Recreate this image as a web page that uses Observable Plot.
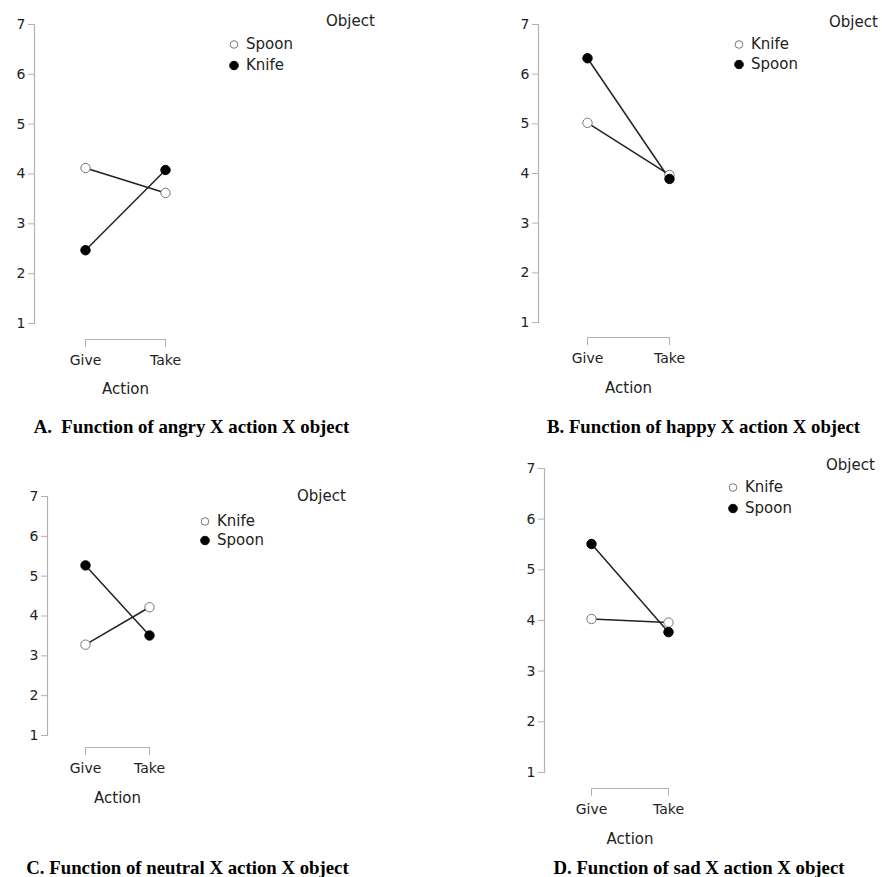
<!DOCTYPE html>
<html>
<head>
<meta charset="utf-8">
<script src="https://cdn.jsdelivr.net/npm/d3@7"></script>
<script src="https://cdn.jsdelivr.net/npm/@observablehq/plot@0.6"></script>
<style>
  body { margin: 0; background: #fff; }
  #page { position: relative; width: 882px; height: 877px; background: #fff; overflow: hidden; font-family: "DejaVu Sans", sans-serif; color: #222; }
  .panel { position: absolute; }
  .cap { position: absolute; transform: translate(-50%, -50%); font-family: "Liberation Serif", serif; font-weight: bold; font-size: 18.8px; color: #000; white-space: pre; }
  .objtitle { position: absolute; transform: translateY(-50%); font-size: 15px; color: #222; }
  .leg { position: absolute; font-size: 15px; color: #222; display: flex; align-items: center; transform: translate(-5px, -50%); line-height: 1; }
  .leg svg { margin-right: 7px; }
</style>
</head>
<body>
<div id="page"></div>
<script>
// ---------------- data ----------------
const actions = ["Give", "Take"];
const yTicks = [1, 2, 3, 4, 5, 6, 7];
const xLabel = "Action";
const legendTitle = "Object";

const captions = [
  "A.  Function of angry X action X object",
  "B. Function of happy X action X object",
  "C. Function of neutral X action X object",
  "D. Function of sad X action X object"
];

// legend order: first = open circle, second = filled circle
const objectsA = ["Spoon", "Knife"];
const objectsB = ["Knife", "Spoon"];
const objectsC = ["Knife", "Spoon"];
const objectsD = ["Knife", "Spoon"];

// values by action (Give, Take)
const angrySpoon = [4.12, 3.62];
const angryKnife = [2.47, 4.08];
const happyKnife = [5.02, 3.97];
const happySpoon = [6.32, 3.89];
const neutralKnife = [3.28, 4.22];
const neutralSpoon = [5.27, 3.51];
const sadKnife = [4.03, 3.96];
const sadSpoon = [5.51, 3.77];

// ---------------- layout ----------------
const panels = [
  { objects: objectsA, series: [angrySpoon, angryKnife], caption: captions[0],
    left: 0, top: 0, width: 440, height: 400,
    mL: 34, mT: 24, mB: 77, mR: 224, xr: [85, 165], bracket: 16, labelDy: 70,
    legX: 234, legY: [44, 65], objX: 326, objY: 21, capX: 191.5, capY: 427 },
  { objects: objectsB, series: [happyKnife, happySpoon], caption: captions[1],
    left: 440, top: 0, width: 442, height: 400,
    mL: 98, mT: 24, mB: 78, mR: 164, xr: [147, 229], bracket: 15, labelDy: 70,
    legX: 739, legY: [44, 64], objX: 829, objY: 22, capX: 703.5, capY: 427 },
  { objects: objectsC, series: [neutralKnife, neutralSpoon], caption: captions[2],
    left: 0, top: 440, width: 440, height: 400,
    mL: 47, mT: 56, mB: 105, mR: 253, xr: [85, 149], bracket: 12, labelDy: 67,
    legX: 205, legY: [521, 540], objX: 297, objY: 496, capX: 187.5, capY: 868 },
  { objects: objectsD, series: [sadKnife, sadSpoon], caption: captions[3],
    left: 440, top: 420, width: 442, height: 440,
    mL: 104, mT: 48, mB: 88, mR: 167, xr: [151, 228], bracket: 16, labelDy: 71,
    legX: 733, legY: [487, 508], objX: 826, objY: 465, capX: 699, capY: 868 }
];

const page = document.getElementById("page");
const axisGray = "#b3b3b3";
const openStroke = "#777";

function legendSymbol(open) {
  const ns = "http://www.w3.org/2000/svg";
  const s = document.createElementNS(ns, "svg");
  s.setAttribute("width", 10); s.setAttribute("height", 10);
  const c = document.createElementNS(ns, "circle");
  c.setAttribute("cx", 5); c.setAttribute("cy", 5);
  c.setAttribute("r", open ? 3.8 : 4.3);
  c.setAttribute("fill", open ? "white" : "black");
  c.setAttribute("stroke", open ? openStroke : "black");
  c.setAttribute("stroke-width", 1);
  s.appendChild(c);
  return s;
}

for (const p of panels) {
  const rows = [];
  p.objects.forEach((obj, k) => {
    actions.forEach((a, i) => rows.push({ action: a, object: obj, value: p.series[k][i], open: k === 0 }));
  });

  const chart = Plot.plot({
    width: p.width,
    height: p.height,
    marginLeft: p.mL, marginTop: p.mT, marginBottom: p.mB, marginRight: p.mR,
    style: { fontFamily: "DejaVu Sans, sans-serif", fontSize: "14px", color: "#222", background: "transparent" },
    x: { type: "point", domain: actions, range: p.xr, padding: 0 },
    y: { domain: [yTicks[0], yTicks[yTicks.length - 1]], range: [p.height - p.mB, p.mT] },
    marks: [
      Plot.frame({ anchor: "left", stroke: axisGray, strokeWidth: 1.2 }),
      Plot.axisY(yTicks, { tickSize: 6, tickPadding: 3, tickFormat: d => String(d), stroke: axisGray, fill: "#222", fontSize: 14, label: null }),
      Plot.ruleY([yTicks[0]], { x1: [actions[0]], x2: [actions[1]], dy: p.bracket, stroke: axisGray, strokeWidth: 1.2 }),
      Plot.axisX(actions, { tickSize: 8, tickPadding: 8, dy: p.bracket, stroke: axisGray, fill: "#222", fontSize: 14, label: null }),
      Plot.text([xLabel], { frameAnchor: "bottom", dy: p.labelDy, fontSize: 15, fill: "#222" }),
      Plot.line(rows, { x: "action", y: "value", z: "object", stroke: "#222", strokeWidth: 1.5 }),
      Plot.dot(rows.filter(d => d.open), { x: "action", y: "value", r: 4.7, fill: "white", stroke: openStroke, strokeWidth: 1 }),
      Plot.dot(rows.filter(d => !d.open), { x: "action", y: "value", r: 4.7, fill: "black", stroke: "black", strokeWidth: 1 })
    ]
  });
  chart.classList.add("panel");
  chart.style.left = p.left + "px";
  chart.style.top = p.top + "px";
  page.appendChild(chart);

  const t = document.createElement("div");
  t.className = "objtitle";
  t.textContent = legendTitle;
  t.style.left = p.objX + "px";
  t.style.top = p.objY + "px";
  page.appendChild(t);

  p.objects.forEach((obj, k) => {
    const e = document.createElement("div");
    e.className = "leg";
    e.style.left = p.legX + "px";
    e.style.top = p.legY[k] + "px";
    e.appendChild(legendSymbol(k === 0));
    const s = document.createElement("span");
    s.textContent = obj;
    e.appendChild(s);
    page.appendChild(e);
  });

  const c = document.createElement("div");
  c.className = "cap";
  c.textContent = p.caption;
  c.style.left = p.capX + "px";
  c.style.top = p.capY + "px";
  page.appendChild(c);
}
</script>
</body>
</html>
